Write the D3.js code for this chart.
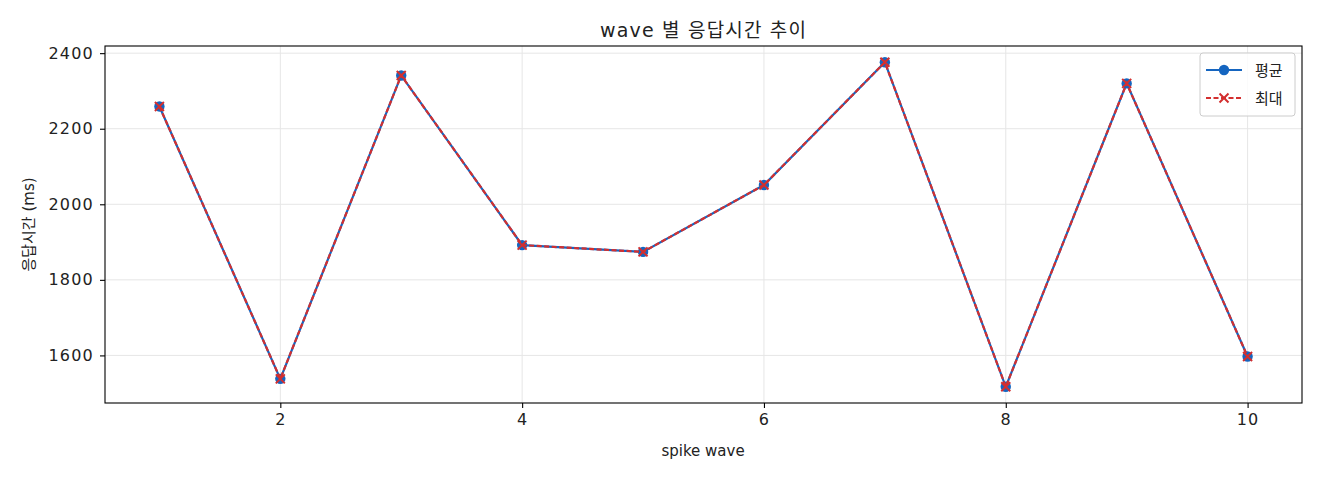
<!DOCTYPE html>
<html><head><meta charset="utf-8">
<script src="https://cdn.jsdelivr.net/npm/d3@7"></script>
<style>body{margin:0;background:#fff}svg text{font-family:"DejaVu Sans","Noto Sans CJK KR",sans-serif;fill:#222}</style>
</head><body><svg id="c" width="1320" height="480"></svg>
<script>
const waves = [1,2,3,4,5,6,7,8,9,10];
const avgValues = [2259,1538,2341,1892,1874,2051,2376,1517,2320,1597];
const maxValues = [2259,1538,2341,1892,1874,2051,2376,1517,2320,1597];
const xTicks = [2,4,6,8,10];
const yTicks = [1600,1800,2000,2200,2400];
const title = "wave 별 응답시간 추이";
const xLabel = "spike wave";
const yLabel = "응답시간 (ms)";
const seriesNames = ["평균","최대"];

const svg = d3.select("#c");
const L=105,R=1302,T=46,B=403;
const all = avgValues.concat(maxValues);
const ymin=d3.min(all), ymax=d3.max(all), pad=(ymax-ymin)*0.05;
const x = d3.scaleLinear().domain([0.55,10.45]).range([L,R]);
const y = d3.scaleLinear().domain([ymin-pad,ymax+pad]).range([B,T]);

// grid
const g = svg.append("g");
g.selectAll(".gx").data(xTicks).join("line").attr("x1",d=>x(d)).attr("x2",d=>x(d)).attr("y1",T).attr("y2",B).attr("stroke","#e6e6e6").attr("stroke-width",1);
g.selectAll(".gy").data(yTicks).join("line").attr("y1",d=>y(d)).attr("y2",d=>y(d)).attr("x1",L).attr("x2",R).attr("stroke","#e6e6e6").attr("stroke-width",1);

// axes
const xa = svg.append("g").attr("transform",`translate(0,${B})`).call(d3.axisBottom(x).tickValues(xTicks).tickSize(5).tickPadding(6).tickFormat(d3.format("d")));
const ya = svg.append("g").attr("transform",`translate(${L},0)`).call(d3.axisLeft(y).tickValues(yTicks).tickSize(5).tickPadding(6).tickFormat(d3.format("d")));
[xa,ya].forEach(a=>{a.select(".domain").remove();a.selectAll("line").attr("stroke","#000").attr("stroke-width",1.1);a.selectAll("text").attr("font-size",16).attr("letter-spacing",1.2).attr("font-family",'"DejaVu Sans",sans-serif').attr("fill","#222");});
svg.append("rect").attr("x",L).attr("y",T).attr("width",R-L).attr("height",B-T).attr("fill","none").attr("stroke","#000").attr("stroke-width",1.1);

// lines
const line = d3.line().x((d,i)=>x(waves[i])).y(d=>y(d));
const blue="#1565c0", red="#d32f2f";
svg.append("path").datum(avgValues).attr("d",line).attr("fill","none").attr("stroke",blue).attr("stroke-width",2.2);
svg.selectAll(".pt").data(avgValues).join("circle").attr("cx",(d,i)=>x(waves[i])).attr("cy",d=>y(d)).attr("r",5.2).attr("fill",blue);
svg.append("path").datum(maxValues).attr("d",line).attr("fill","none").attr("stroke",red).attr("stroke-width",2.2).attr("stroke-dasharray","5,2.5");
const xs=4.5;
svg.selectAll(".xm").data(maxValues).join("path").attr("d",(d,i)=>{const cx=x(waves[i]),cy=y(d);return `M${cx-xs},${cy-xs}L${cx+xs},${cy+xs}M${cx-xs},${cy+xs}L${cx+xs},${cy-xs}`;}).attr("stroke",red).attr("stroke-width",2).attr("fill","none");

// texts
svg.append("text").attr("x",703).attr("y",37).attr("text-anchor","middle").attr("font-size",19).attr("textLength",206).attr("lengthAdjust","spacing").text(title);
svg.append("text").attr("x",703).attr("y",456).attr("text-anchor","middle").attr("font-size",15).text(xLabel);
svg.append("text").attr("transform",`translate(34,${(T+B)/2}) rotate(-90)`).attr("text-anchor","middle").attr("font-size",15).text(yLabel);

// legend
const lg = svg.append("g");
lg.append("rect").attr("x",1200).attr("y",53).attr("width",95).attr("height",63).attr("rx",3).attr("fill","#fff").attr("fill-opacity",0.8).attr("stroke","#ccc");
lg.append("line").attr("x1",1206).attr("x2",1242).attr("y1",70).attr("y2",70).attr("stroke",blue).attr("stroke-width",2.2);
lg.append("circle").attr("cx",1224).attr("cy",70).attr("r",5.2).attr("fill",blue);
lg.append("line").attr("x1",1206).attr("x2",1242).attr("y1",98).attr("y2",98).attr("stroke",red).attr("stroke-width",2.2).attr("stroke-dasharray","5,2.5");
lg.append("path").attr("d",`M${1224-xs},${98-xs}L${1224+xs},${98+xs}M${1224-xs},${98+xs}L${1224+xs},${98-xs}`).attr("stroke",red).attr("stroke-width",2);
lg.append("text").attr("x",1255).attr("y",76).attr("font-size",15).text(seriesNames[0]);
lg.append("text").attr("x",1255).attr("y",104).attr("font-size",15).text(seriesNames[1]);
</script></body></html>
